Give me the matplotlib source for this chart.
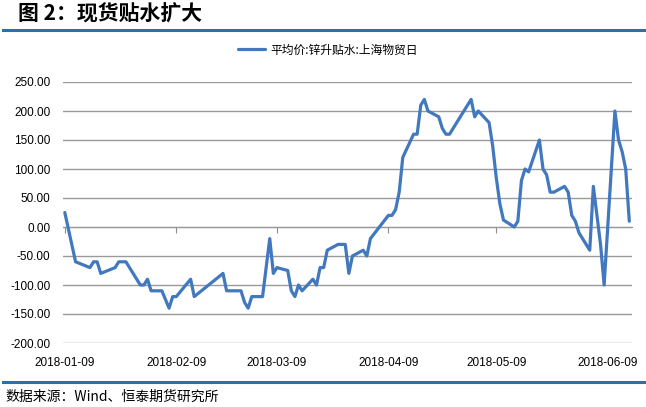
import numpy as np
import pandas as pd
import matplotlib
matplotlib.use("Agg")
import matplotlib.pyplot as plt
from matplotlib.ticker import FormatStrFormatter

# data: 平均价:锌升贴水:上海物贸日 (元/吨)
dates = ["2018-01-09", "2018-01-12", "2018-01-16", "2018-01-17", "2018-01-18",
         "2018-01-19", "2018-01-23", "2018-01-24", "2018-01-26", "2018-01-30",
         "2018-01-31", "2018-02-01", "2018-02-02", "2018-02-05", "2018-02-07",
         "2018-02-08", "2018-02-09", "2018-02-13", "2018-02-14", "2018-02-22",
         "2018-02-23", "2018-02-27", "2018-02-28", "2018-03-01", "2018-03-02",
         "2018-03-05", "2018-03-07", "2018-03-08", "2018-03-09", "2018-03-12",
         "2018-03-13", "2018-03-14", "2018-03-15", "2018-03-16", "2018-03-19",
         "2018-03-20", "2018-03-21", "2018-03-22", "2018-03-23", "2018-03-26",
         "2018-03-28", "2018-03-29", "2018-03-30", "2018-04-02", "2018-04-03",
         "2018-04-04", "2018-04-09", "2018-04-10", "2018-04-11", "2018-04-12",
         "2018-04-13", "2018-04-16", "2018-04-17", "2018-04-18", "2018-04-19",
         "2018-04-20", "2018-04-23", "2018-04-24", "2018-04-25", "2018-04-26",
         "2018-05-02", "2018-05-03", "2018-05-04", "2018-05-07", "2018-05-08",
         "2018-05-09", "2018-05-10", "2018-05-11", "2018-05-14", "2018-05-15",
         "2018-05-16", "2018-05-17", "2018-05-18", "2018-05-21", "2018-05-22",
         "2018-05-23", "2018-05-24", "2018-05-25", "2018-05-28", "2018-05-29",
         "2018-05-30", "2018-05-31", "2018-06-01", "2018-06-04", "2018-06-05",
         "2018-06-06", "2018-06-07", "2018-06-08", "2018-06-11", "2018-06-12",
         "2018-06-13", "2018-06-14", "2018-06-15"]
values = [25, -60, -70, -60, -60,
          -80, -70, -60, -60, -100,
          -100, -90, -110, -110, -140,
          -120, -120, -90, -120, -80,
          -110, -110, -130, -140, -120,
          -120, -20, -80, -70, -75,
          -110, -120, -100, -110, -90,
          -100, -70, -70, -40, -30,
          -30, -80, -50, -40, -50,
          -20, 20, 20, 30, 60,
          120, 160, 160, 210, 220,
          200, 190, 170, 160, 160,
          220, 190, 200, 180, 140,
          85, 40, 12, 0, 10,
          80, 100, 95, 150, 100,
          90, 60, 60, 70, 60,
          20, 10, -10, -40, 70,
          20, -30, -100, 200, 150,
          130, 100, 10]
tick_dates = ["2018-01-09", "2018-02-09", "2018-03-09", "2018-04-09",
              "2018-05-09", "2018-06-09"]
series_name = "平均价:锌升贴水:上海物贸日"

x = pd.to_datetime(dates)
xt = pd.to_datetime(tick_dates)

plt.rcParams['font.family'] = ['Liberation Sans', 'Noto Sans CJK SC', 'DejaVu Sans']

fig = plt.figure(figsize=(6.46, 4.07), dpi=100)
ax = fig.add_axes([63/646, 1-343/407, (632-63)/646, (343-82)/407])

ax.plot(x, values, color='#4178BE', lw=2.3, label=series_name,
        solid_joinstyle='round', solid_capstyle='round', clip_on=False)

ax.set_ylim(-200, 250)
ax.set_yticks(np.arange(-200, 251, 50))
ax.yaxis.set_major_formatter(FormatStrFormatter('%.2f'))
ax.set_xlim(pd.Timestamp("2018-01-08 12:00"), pd.Timestamp("2018-06-15 18:00"))
ax.set_xticks(xt)
ax.set_xticklabels([d.strftime('%Y-%m-%d') for d in xt])
ax.tick_params(axis='both', length=0, labelsize=8.5, colors='#000000')
ax.tick_params(axis='x', pad=10)
ax.tick_params(axis='y', pad=9)
ax.grid(axis='y', color='#9A9A9A', lw=1)
ax.set_axisbelow(True)
for s in ax.spines.values():
    s.set_visible(False)

# zero axis with tick marks
zero_ax = ax.secondary_xaxis(200/450)
zero_ax.set_xticks(xt)
zero_ax.set_xticklabels([])
zero_ax.tick_params(length=4, color='#8C8C8C', direction='out')
zero_ax.spines['bottom'].set_color('#8C8C8C')

fig.legend(loc='center', bbox_to_anchor=(328/646, 1-50/407), frameon=False,
           handlelength=2.3, handletextpad=0.5,
           prop={'family': ['Noto Sans CJK SC'], 'size': 8.5})

# header and footer
fig.text(18/646, 1-14/407, "图 2：现货贴水扩大", fontsize=15, fontweight='bold',
         family=['Noto Sans CJK SC'], va='center', ha='left')
fig.add_artist(plt.Line2D([3/646, 1], [1-30/407, 1-30/407], color='#2E6DB4', lw=2.2))
fig.add_artist(plt.Line2D([3/646, 1], [1-382/407, 1-382/407], color='#2E6DB4', lw=2.2))
fig.text(5/646, 1-397/407, "数据来源：Wind、恒泰期货研究所", fontsize=10,
         family=['Noto Sans CJK SC'], va='center', ha='left')

fig.savefig('out.png', dpi=100)
